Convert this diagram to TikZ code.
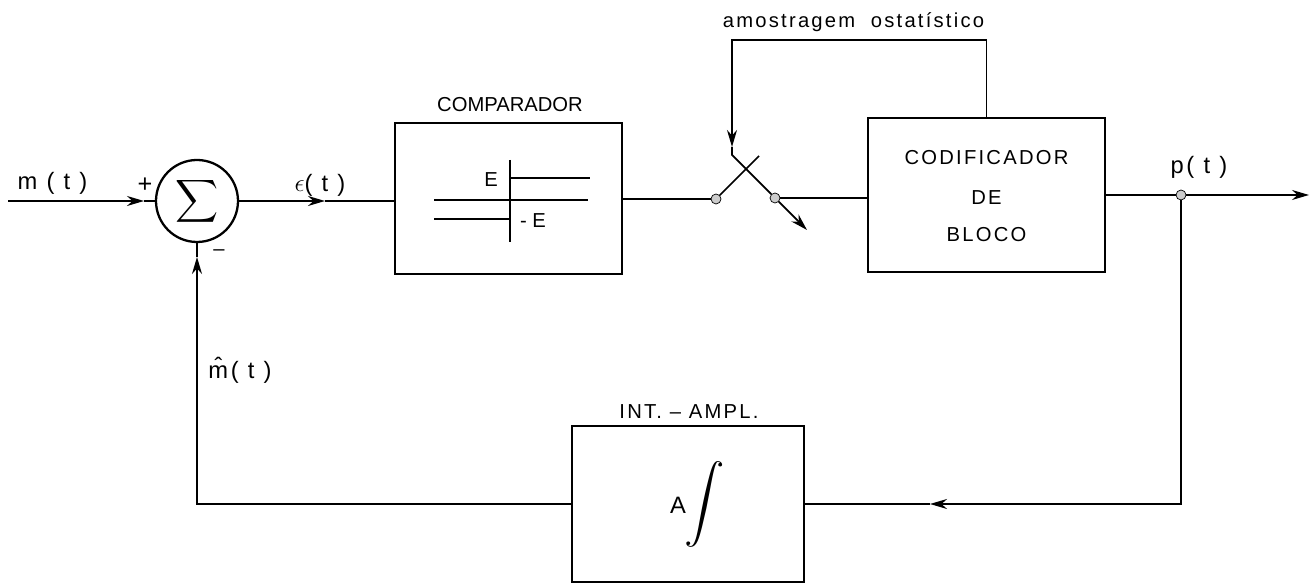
\documentclass[tikz,border=0pt]{standalone}
\usepackage{amssymb}
\usepackage{amsmath}
\usepackage{fontspec}
\setmainfont{Liberation Sans}
\newfontfamily\largafont[LetterSpace=11]{Liberation Sans}
\usetikzlibrary{arrows.meta}

\tikzset{
    bloco/.style={draw, line width=1.3pt, inner sep=0pt},
    terminal/.style={circle, draw, fill=gray!40, inner sep=0pt, minimum size=0.2cm},
    rotulo/.style={inner sep=0pt, font=\fontsize{11.5pt}{13pt}\selectfont},
    largo/.style={inner sep=0pt, font=\fontsize{11.5pt}{13pt}\largafont},
    sinal/.style={inner sep=0pt, font=\fontsize{13.5pt}{15pt}\largafont},
    linha/.style={line width=1pt},
    seta/.style={line width=1pt, -{Stealth[length=0.34cm,width=0.2cm]}}
}

\begin{document}
\begin{tikzpicture}
        \useasboundingbox (0,0) rectangle (26.22,11.7);

        % draw the blocks
        \node[bloco, circle, minimum size=1.64cm] (soma) at (3.94,7.68) {};
        \node[bloco, minimum width=4.54cm, minimum height=3.02cm] (comparador) at (10.17,7.73) {};
        \node[bloco, minimum width=4.74cm, minimum height=3.08cm] (codificador) at (19.73,7.8) {};
        \node[bloco, minimum width=4.64cm, minimum height=3.12cm] (integrador) at (13.76,1.62) {};

        % the sum and the integral
        \node[inner sep=0pt] (sigma) at (3.94,7.68) {\scalebox{1.7}{$\displaystyle\sum$}};
        \node[inner sep=0pt] (integral) at (14.1,1.62) {\scalebox{2.3}[2.2]{$\displaystyle\int$}};

        % the texts
        \node[sinal] (mt) at (1.05,8.04) {m ( t )};
        \node[rotulo, font=\Large] (mais) at (2.9,8.0) {+};
        \node[rotulo] (menos) at (4.38,6.64) {–};
        \node[sinal] (et) at (6.4,8.0) {$\epsilon$( t )};
        \node[rotulo] (tcomparador) at (10.2,9.6) {COMPARADOR};
        \node[rotulo] (te) at (9.82,8.1) {E};
        \node[rotulo] (tme) at (10.66,7.28) {- E};
        \node[largo] (amostragem) at (17.07,11.26) {amostragem\ \ ostatístico};
        \node[largo] (cod1) at (19.73,8.54) {CODIFICADOR};
        \node[largo] (cod2) at (19.73,7.74) {DE};
        \node[largo] (cod3) at (19.73,7.0) {BLOCO};
        \node[sinal] (pt) at (23.98,8.36) {p( t )};
        \node[sinal] (mhat) at (4.8,4.3) {\^m( t )};
        \node[largo] (tint) at (13.78,3.46) {INT. – AMPL.};
        \node[sinal, font=\fontsize{13.5pt}{15pt}\selectfont] (ta) at (13.56,1.6) {A};

        % the switch
        \node[terminal] (swa) at (14.32,7.72) {};
        \node[terminal] (swb) at (15.5,7.74) {};
        \coordinate (armtop) at (15.18,8.58);
        \coordinate (swtop) at (14.64,8.6);
        \coordinate (swarrow) at (14.64,8.76);
        \coordinate (swtip) at (16.14,7.1);
        \coordinate (fbleft) at (14.64,10.9);

        % free ends and arrows in the middle of a line
        \coordinate (entrada) at (0.16,7.68);
        \coordinate (entseta) at (2.88,7.68);
        \coordinate (errseta) at (6.5,7.68);
        \node[terminal] (saida) at (23.62,7.8) {};
        \coordinate (fim) at (26.18,7.8);
        \coordinate (voltaseta) at (18.6,1.62);
        \coordinate (somaseta) at (3.94,6.56);

        % the comparator curve
        \draw[linha] (10.2,8.5) -- (10.2,6.86);
        \draw[linha] (10.2,8.14) -- (11.8,8.14);
        \draw[linha] (8.68,7.7) -- (11.76,7.7);
        \draw[linha] (8.68,7.32) -- (10.2,7.32);

        % draw the arrows
        \draw[seta] (entrada) -- (entseta);
        \draw[linha] (entseta) -- (soma.west);
        \draw[seta] (soma.east) -- (errseta);
        \draw[linha] (errseta) -- (errseta -| comparador.west);
        \draw[linha] (comparador.east |- swa) -- (swa);
        \draw[linha] (swa) -- (armtop);
        \draw[linha] (swarrow) -- (swtop) -- (swb);
        \draw[seta] (swb) -- (swtip);
        \draw[linha] (swb) -- (swb -| codificador.west);
        \draw[seta] (codificador.north) |- (fbleft) -- (swarrow);
        \draw[linha] (codificador.east) -- (saida);
        \draw[seta] (saida) -- (fim);
        \draw[seta] (saida) |- (voltaseta);
        \draw[linha] (voltaseta) -- (integrador.east);
        \draw[seta] (integrador.west) -| (somaseta);
        \draw[linha] (somaseta) -- (soma.south);

\end{tikzpicture}
\end{document}
